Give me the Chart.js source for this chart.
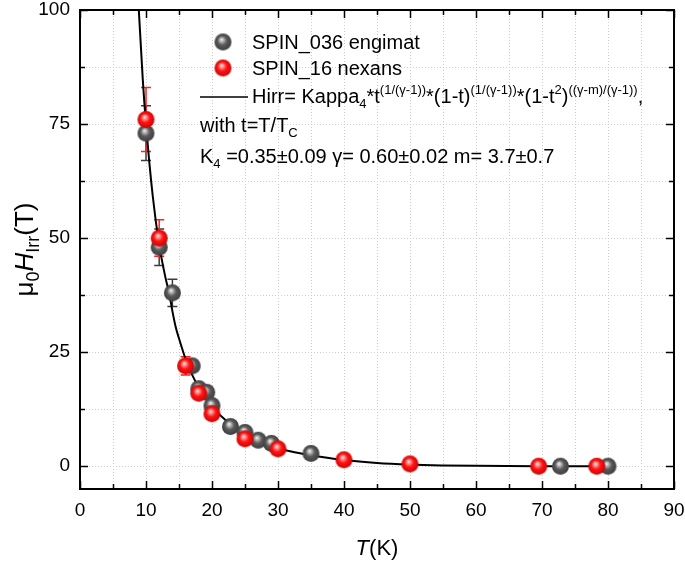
<!DOCTYPE html>
<html>
<head>
<meta charset="utf-8">
<script src="https://cdn.jsdelivr.net/npm/chart.js@4/dist/chart.umd.min.js"></script>
<style>
  html, body { margin: 0; padding: 0; background: #fff; }
  #wrap { width: 685px; height: 561px; }
</style>
</head>
<body>
<div id="wrap"><canvas id="hirrChart" width="685" height="561"></canvas></div>
<script>
// data
var grayT = [10, 12, 14, 17, 18, 19.2, 20, 22.8, 25, 27, 29, 35, 72.8, 80];
var grayH = [73, 48, 38, 22, 17, 16.2, 13.3, 8.7, 7.4, 5.7, 5.0, 2.8, 0, 0];
var grayErr = [6, 4, 3, 0, 0, 0, 0, 0, 0, 0, 0, 0, 0, 0];

var redT = [10, 12, 16, 18, 20, 25, 30, 40, 50, 69.5, 78.3];
var redH = [76, 50, 22, 16, 11.5, 6, 3.8, 1.4, 0.5, 0, 0];
var redErr = [7, 4, 2, 0, 0, 0, 0, 0, 0, 0, 0];

var fitT = [8.8, 9.5, 10, 11, 12, 13, 13.5, 14, 14.5, 15, 16, 17, 18, 19, 20, 22, 24, 26, 28, 30, 32, 35, 40, 45, 50, 55, 60, 70, 80];
var fitH = [103, 85, 75, 59.5, 48.5, 41, 38, 34, 30.5, 28, 23.5, 20, 17.2, 15, 13, 10.2, 8.1, 6.5, 5.1, 4.0, 3.2, 2.4, 1.35, 0.7, 0.35, 0.17, 0.07, 0.01, 0];

var xTicks = [0, 10, 20, 30, 40, 50, 60, 70, 80, 90];
var yTicks = [0, 25, 50, 75, 100];
var yMinor = [12.5, 37.5, 62.5, 87.5];

var FONT = '"Liberation Sans", Arial, sans-serif';

function toPoints(xs, ys) {
  return xs.map(function (x, i) { return { x: x, y: ys[i] }; });
}

// shaded ball used as the marker
function makeBall(light, base, dark) {
  var r = 8.5;
  var c = document.createElement("canvas");
  c.width = 19;
  c.height = 19;
  var g = c.getContext("2d");
  var grad = g.createRadialGradient(8, 7, 0.5, 9.5, 9.5, r + 1);
  grad.addColorStop(0, light);
  grad.addColorStop(0.45, base);
  grad.addColorStop(1, dark);
  g.fillStyle = grad;
  g.beginPath();
  g.arc(9.5, 9.5, r, 0, Math.PI * 2);
  g.fill();
  return c;
}

var grayBall = makeBall("#e8e8e8", "#5a5a5a", "#383838");
var redBall = makeBall("#ffd6d6", "#ff1414", "#c40000");

// write text made of pieces: [text, size, italic, shift]
function drawPieces(ctx, pieces, x, y) {
  pieces.forEach(function (p) {
    ctx.font = (p[2] ? "italic " : "") + p[1] + "px " + FONT;
    ctx.fillText(p[0], x, y + p[3]);
    x += ctx.measureText(p[0]).width;
  });
  return x;
}

function piecesWidth(ctx, pieces) {
  var w = 0;
  pieces.forEach(function (p) {
    ctx.font = (p[2] ? "italic " : "") + p[1] + "px " + FONT;
    w += ctx.measureText(p[0]).width;
  });
  return w;
}

var errorBars = {
  id: "errorBars",
  beforeDatasetsDraw: function (chart) {
    var ctx = chart.ctx;
    var xs = chart.scales.x, ys = chart.scales.y;
    var sets = [[grayT, grayH, grayErr, "#3c3c3c"], [redT, redH, redErr, "#ff2020"]];
    ctx.save();
    ctx.lineWidth = 1.5;
    sets.forEach(function (s) {
      ctx.strokeStyle = s[3];
      s[0].forEach(function (t, i) {
        if (!s[2][i]) return;
        var px = xs.getPixelForValue(t);
        var top = ys.getPixelForValue(s[1][i] + s[2][i]);
        var bot = ys.getPixelForValue(s[1][i] - s[2][i]);
        ctx.beginPath();
        ctx.moveTo(px, top); ctx.lineTo(px, bot);
        ctx.moveTo(px - 5, top); ctx.lineTo(px + 5, top);
        ctx.moveTo(px - 5, bot); ctx.lineTo(px + 5, bot);
        ctx.stroke();
      });
    });
    ctx.restore();
  }
};

var frameAndText = {
  id: "frameAndText",
  afterDraw: function (chart) {
    var ctx = chart.ctx;
    var a = chart.chartArea;
    var xs = chart.scales.x, ys = chart.scales.y;
    ctx.save();

    // inward ticks on all four sides
    ctx.strokeStyle = "#000";
    ctx.lineWidth = 1.5;
    ctx.beginPath();
    for (var v = 0; v <= 90; v += 5) {
      var px = Math.round(xs.getPixelForValue(v)) + 0.5;
      var len = v % 10 === 0 ? 8 : 5;
      ctx.moveTo(px, a.bottom); ctx.lineTo(px, a.bottom - len);
      ctx.moveTo(px, a.top); ctx.lineTo(px, a.top + len);
    }
    yTicks.concat(yMinor).forEach(function (t) {
      var py = Math.round(ys.getPixelForValue(t)) + 0.5;
      var len = yTicks.indexOf(t) >= 0 ? 8 : 5;
      ctx.moveTo(a.left, py); ctx.lineTo(a.left + len, py);
      ctx.moveTo(a.right, py); ctx.lineTo(a.right - len, py);
    });
    ctx.stroke();

    ctx.lineWidth = 2;
    ctx.strokeRect(a.left, a.top, a.right - a.left, a.bottom - a.top);

    // legend block
    ctx.fillStyle = "#000";
    ctx.textBaseline = "alphabetic";
    ctx.textAlign = "left";
    ctx.drawImage(grayBall, a.left + 143 - 9.5, a.top + 32 - 9.5);
    ctx.drawImage(redBall, a.left + 143 - 9.5, a.top + 58 - 9.5);
    ctx.font = "20px " + FONT;
    ctx.fillText("SPIN_036 engimat", a.left + 172, a.top + 39);
    ctx.fillText("SPIN_16 nexans", a.left + 172, a.top + 65);

    ctx.lineWidth = 1.5;
    ctx.beginPath();
    ctx.moveTo(a.left + 120, a.top + 87);
    ctx.lineTo(a.left + 168, a.top + 87);
    ctx.stroke();

    var sup = "(1/(\u03b3-1))";
    drawPieces(ctx, [
      ["Hirr= Kappa", 20, false, 0],
      ["4", 13, false, 5],
      ["*t", 20, false, 0],
      [sup, 13, false, -9],
      ["*(1-t)", 20, false, 0],
      [sup, 13, false, -9],
      ["*(1-t", 20, false, 0],
      ["2", 13, false, -9],
      [")", 20, false, 0],
      ["((\u03b3-m)/(\u03b3-1))", 13, false, -9],
      [",", 20, false, 0]
    ], a.left + 172, a.top + 93);

    drawPieces(ctx, [
      ["with t=T/T", 20, false, 0],
      ["C", 13, false, 5]
    ], a.left + 120, a.top + 122);

    drawPieces(ctx, [
      ["K", 20, false, 0],
      ["4", 13, false, 5],
      [" =0.35\u00b10.09 \u03b3= 0.60\u00b10.02 m= 3.7\u00b10.7", 20, false, 0]
    ], a.left + 120, a.top + 153);

    // x axis title
    var xt = [["T", 22, true, 0], ["(K)", 22, false, 0]];
    var w = piecesWidth(ctx, xt);
    drawPieces(ctx, xt, (a.left + a.right) / 2 - w / 2, 555);

    // y axis title, rotated
    var yt = [
      ["\u03bc", 26, false, 0],
      ["0", 18, false, 6],
      ["H", 26, true, 0],
      ["Irr", 18, false, 6],
      ["(T)", 26, false, 0]
    ];
    ctx.translate(24, (a.top + a.bottom) / 2);
    ctx.rotate(-Math.PI / 2);
    w = piecesWidth(ctx, yt);
    drawPieces(ctx, yt, -w / 2, 9);

    ctx.restore();
  }
};

var ctx = document.getElementById("hirrChart").getContext("2d");

var chart = new Chart(ctx, {
  type: "scatter",
  data: {
    datasets: [
      {
        label: "SPIN_16 nexans",
        data: toPoints(redT, redH),
        pointStyle: redBall,
        pointRadius: 8,
        showLine: false,
        order: 0
      },
      {
        label: "SPIN_036 engimat",
        data: toPoints(grayT, grayH),
        pointStyle: grayBall,
        pointRadius: 8,
        showLine: false,
        order: 1
      },
      {
        label: "fit",
        data: toPoints(fitT, fitH),
        showLine: true,
        borderColor: "#000",
        borderWidth: 2,
        pointRadius: 0,
        cubicInterpolationMode: "monotone",
        fill: false,
        order: 2
      }
    ]
  },
  options: {
    responsive: false,
    animation: false,
    devicePixelRatio: 1,
    layout: { padding: { top: 10, right: 11, left: 0, bottom: 0 } },
    plugins: {
      legend: { display: false },
      tooltip: { enabled: false }
    },
    scales: {
      x: {
        type: "linear",
        min: 0,
        max: 90,
        afterFit: function (scale) {
          scale.height = 72;
          scale.paddingLeft = 0;
          scale.paddingRight = 0;
        },
        ticks: {
          stepSize: 5,
          autoSkip: false,
          maxRotation: 0,
          padding: 10,
          color: "#000",
          font: { size: 19, family: FONT },
          callback: function (value) {
            return xTicks.indexOf(value) >= 0 ? value : "";
          }
        },
        grid: { color: "#cccccc", lineWidth: 1, drawTicks: false },
        border: { display: false, dash: [1, 2] }
      },
      y: {
        type: "linear",
        min: -5,
        max: 100,
        afterFit: function (scale) {
          scale.width = 80;
          scale.paddingTop = 0;
          scale.paddingBottom = 0;
        },
        afterBuildTicks: function (scale) {
          scale.ticks = yTicks.concat(yMinor).sort(function (p, q) { return p - q; })
            .map(function (v) { return { value: v }; });
        },
        ticks: {
          autoSkip: false,
          padding: 10,
          color: "#000",
          font: { size: 19, family: FONT },
          callback: function (value) {
            return yTicks.indexOf(value) >= 0 ? value : "";
          }
        },
        grid: { color: "#cccccc", lineWidth: 1, drawTicks: false },
        border: { display: false, dash: [1, 2] }
      }
    }
  },
  plugins: [errorBars, frameAndText]
});
</script>
</body>
</html>
